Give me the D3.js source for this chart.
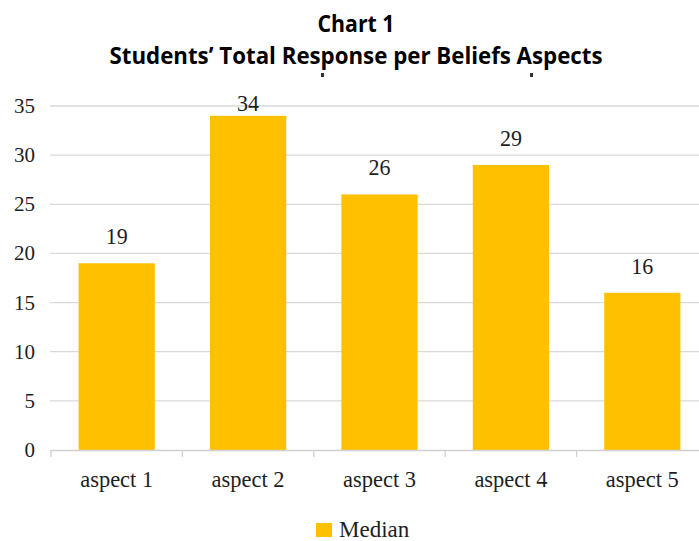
<!DOCTYPE html>
<html><head><meta charset="utf-8">
<script src="https://cdn.jsdelivr.net/npm/d3@7"></script>
<style>body{margin:0;background:#fff}</style>
</head><body>
<svg id="c" width="699" height="541"></svg>
<script>
const categories = ["aspect 1","aspect 2","aspect 3","aspect 4","aspect 5"];
const medianValues = [19,34,26,29,16];
const yTicks = [0,5,10,15,20,25,30,35];
const titleLines = ["Chart 1","Students\u2019 Total Response per Beliefs Aspects"];
const seriesName = "Median";

const svg = d3.select("#c");
const x0 = 51, step = 131.4, plotTop = 106, plotBottom = 450;
const x = d3.scaleBand().domain(categories).range([x0, x0 + step*categories.length]).paddingInner(0.42).paddingOuter(0.21);
const y = d3.scaleLinear().domain([0,35]).range([plotBottom, plotTop]);
const serif = "'Liberation Serif','Times New Roman',serif";
const ink = "#1e1e1e";

// gridlines
svg.append("g").selectAll("line").data(yTicks.filter(d=>d>0)).join("line")
  .attr("x1",50).attr("x2",699).attr("y1",d=>y(d)).attr("y2",d=>y(d))
  .attr("stroke","#d9d9d9").attr("stroke-width",1.3);

// y labels
svg.append("g").selectAll("text").data(yTicks).join("text")
  .attr("x",35).attr("y",d=>y(d)+7).attr("text-anchor","end")
  .attr("font-family",serif).attr("font-size",21).attr("fill",ink).text(d=>d);

// bars
svg.append("g").selectAll("rect").data(medianValues).join("rect")
  .attr("x",(d,i)=>x(categories[i])).attr("width",x.bandwidth())
  .attr("y",d=>y(d)).attr("height",d=>y(0)-y(d)).attr("fill","#FFC000");

// value labels (kept inside plot area, as Excel does)
svg.append("g").selectAll("text").data(medianValues).join("text")
  .attr("x",(d,i)=>x(categories[i])+x.bandwidth()/2).attr("y",d=>Math.max(y(d)-19, plotTop+5))
  .attr("text-anchor","middle").attr("font-family",serif).attr("font-size",23).attr("fill",ink).text(d=>d)
  .attr("textLength",22).attr("lengthAdjust","spacingAndGlyphs");

// x axis
const xa = d3.scaleLinear().domain([0,categories.length]).range([x0, x0+step*categories.length]);
svg.append("line").attr("x1",x0).attr("x2",699).attr("y1",y(0)+0.5).attr("y2",y(0)+0.5).attr("stroke","#d0d0d0").attr("stroke-width",1.3);
svg.append("g").selectAll("line").data(d3.range(categories.length)).join("line")
  .attr("x1",d=>xa(d)).attr("x2",d=>xa(d)).attr("y1",y(0)).attr("y2",y(0)+7)
  .attr("stroke","#d0d0d0").attr("stroke-width",1.3);
svg.append("g").selectAll("text").data(categories).join("text")
  .attr("x",d=>x(d)+x.bandwidth()/2).attr("y",487).attr("text-anchor","middle")
  .attr("font-family",serif).attr("font-size",23).attr("fill",ink).text(d=>d)
  .attr("textLength",73).attr("lengthAdjust","spacingAndGlyphs");

// title
svg.append("g").selectAll("text").data(titleLines).join("text")
  .attr("x",356).attr("y",(d,i)=>i===0?32:64).attr("text-anchor","middle")
  .attr("font-family","'Open Sans',sans-serif").attr("font-weight","bold").attr("font-size",24)
  .attr("fill","#000").text(d=>d)
  .attr("textLength",(d,i)=>i===0?77:493).attr("lengthAdjust","spacingAndGlyphs");

// small artifacts under title
svg.append("g").selectAll("rect").data([321,530]).join("rect")
  .attr("x",d=>d).attr("y",73).attr("width",3).attr("height",4).attr("fill","#333");

// legend
svg.append("rect").attr("x",316).attr("y",523).attr("width",16).attr("height",14).attr("fill","#FFC000");
svg.append("text").attr("x",339).attr("y",537).attr("font-family",serif).attr("font-size",23).attr("fill",ink).text(seriesName);
</script>
</body></html>
